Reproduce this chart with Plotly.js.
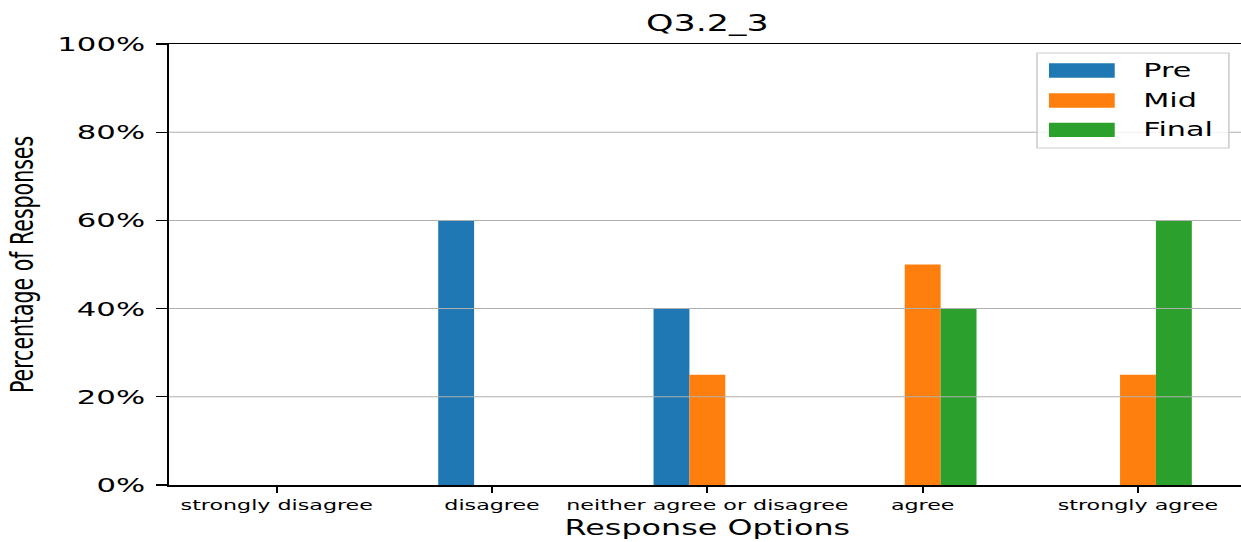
<!DOCTYPE html>
<html>
<head>
<meta charset="utf-8">
<script src="https://cdn.plot.ly/plotly-3.0.1.min.js"></script>
<style>
  html, body { margin: 0; padding: 0; background: #fff; }
  #wrap { width: 1241px; height: 542px; overflow: hidden; position: relative; }
  #plot { width: 803px; height: 542px; transform: scaleX(1.55125); transform-origin: 0 0; }
</style>
</head>
<body>
<div id="wrap"><div id="plot"></div></div>
<script>
const categories = ['strongly disagree', 'disagree', 'neither agree or disagree', 'agree', 'strongly agree'];
const seriesNames = ['Pre', 'Mid', 'Final'];
const preValues = [0, 60, 40, 0, 0];
const midValues = [0, 0, 25, 50, 25];
const finalValues = [0, 0, 0, 40, 60];
const seriesColors = ['#1f77b4', '#ff7f0e', '#2ca02c'];
const yTickValues = [0, 20, 40, 60, 80, 100];
const chartTitle = 'Q3.2_3';
const xTitle = 'Response Options';
const yTitle = 'Percentage of Responses';

const FONT = 'DejaVu Sans, sans-serif';
const allValues = [preValues, midValues, finalValues];

const traces = seriesNames.map((name, i) => ({
  type: 'bar',
  name: name,
  x: categories,
  y: allValues[i],
  marker: { color: seriesColors[i], line: { width: 0 } },
  showlegend: false,
  hoverinfo: 'skip'
}));

// plot-area geometry (unscaled px) used to place the legend box in paper coords
const W = 803, H = 542, ML = 109, MR = 0, MT = 44, MB = 57;
const PW = W - ML - MR, PH = H - MT - MB;
const px = u => (u - ML) / PW;
const py = v => (H - MB - v) / PH;

const shapes = [];
// gridlines drawn above bars (as in the reference)
yTickValues.filter(v => v > 0 && v < 100).forEach(v => {
  shapes.push({ type: 'line', xref: 'paper', yref: 'y', x0: 0, x1: 1, y0: v, y1: v,
    line: { color: '#b0b0b0', width: 1 }, layer: 'above' });
});
// legend frame
shapes.push({ type: 'rect', xref: 'paper', yref: 'paper',
  x0: px(668.5), x1: px(792.2), y0: py(148), y1: py(53),
  line: { color: '#cccccc', width: 1 }, fillcolor: 'rgba(255,255,255,0.8)', layer: 'above' });

const annotations = [];
const swatchTops = [63.3, 93.3, 122.7];
seriesNames.forEach((name, i) => {
  const t = swatchTops[i];
  shapes.push({ type: 'rect', xref: 'paper', yref: 'paper',
    x0: px(676.2), x1: px(718.6), y0: py(t + 14.4), y1: py(t),
    line: { width: 0 }, fillcolor: seriesColors[i], layer: 'above' });
  annotations.push({ xref: 'paper', yref: 'paper', x: px(734.5), y: py(t + 7.2),
    xanchor: 'left', yanchor: 'middle', text: name, showarrow: false,
    font: { family: FONT, size: 19.5, color: '#000' } });
});

const layout = {
  width: W, height: H,
  margin: { l: ML, r: MR, t: MT, b: MB, pad: 0 },
  paper_bgcolor: '#fff', plot_bgcolor: '#fff',
  font: { family: FONT, color: '#000' },
  title: { text: chartTitle, font: { family: FONT, size: 22.5, color: '#000' },
    x: 0.5, xref: 'paper', y: 1 - 23 / H, yref: 'container', yanchor: 'middle' },
  barmode: 'group', bargap: 0.5, bargroupgap: 0,
  xaxis: {
    type: 'category', range: [-0.5, 4.5],
    showline: true, linecolor: '#000', linewidth: 1.5, mirror: true,
    ticks: 'outside', ticklen: 6, tickwidth: 1.2, tickcolor: '#000',
    showgrid: false, zeroline: false,
    tickfont: { family: FONT, size: 14.3, color: '#000' },
    title: { text: xTitle, font: { family: FONT, size: 20.5, color: '#000' }, standoff: 9 }
  },
  yaxis: {
    range: [0, 100], tickvals: yTickValues, ticktext: yTickValues.map(v => v + '%'),
    showline: true, linecolor: '#000', linewidth: 1.5, mirror: true,
    ticks: 'outside', ticklen: 7, tickwidth: 1.2, tickcolor: '#000',
    ticklabelstandoff: 3,
    showgrid: false, zeroline: false,
    tickfont: { family: FONT, size: 19.8, color: '#000' },
    title: { text: yTitle, font: { family: FONT, size: 20.5, color: '#000' }, standoff: 9 }
  },
  shapes: shapes,
  annotations: annotations,
  showlegend: false
};

Plotly.newPlot('plot', traces, layout, { displayModeBar: false, staticPlot: true });
</script>
</body>
</html>
